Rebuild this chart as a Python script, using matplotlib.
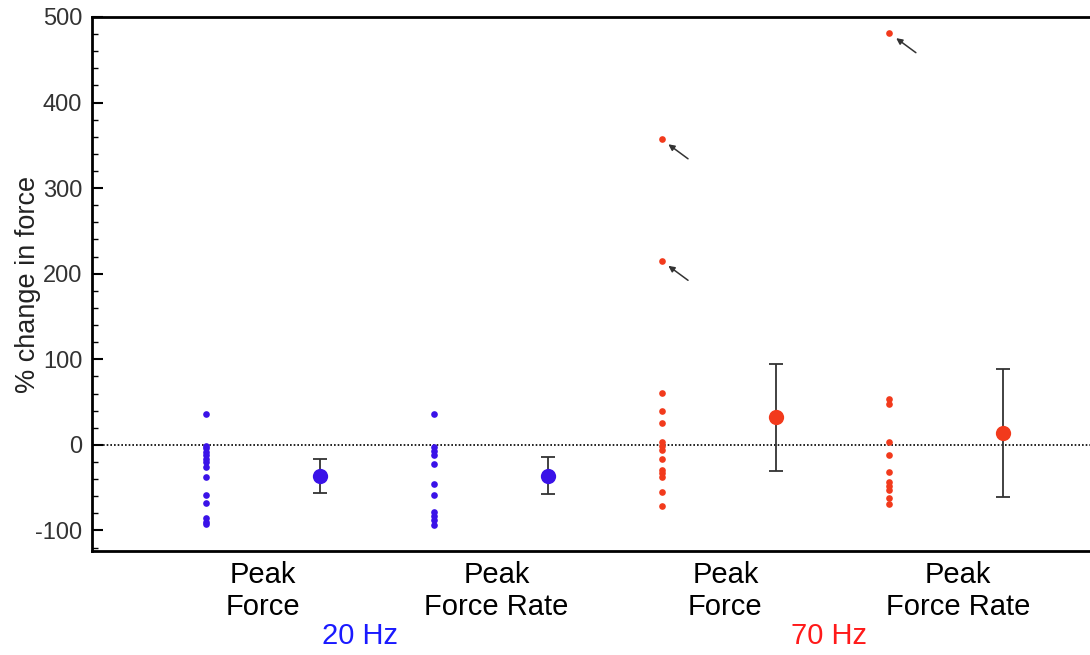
import numpy as np
import matplotlib
matplotlib.use('Agg')
from matplotlib import pyplot as plt
from matplotlib.ticker import MultipleLocator

plt.rcParams['font.family'] = ['Liberation Sans', 'DejaVu Sans']
plt.rcParams['axes.unicode_minus'] = False

# individual % changes
pf_20hz  = [36, -1, -4, -8, -12, -16, -20, -26, -37, -59, -68, -86, -90, -93]
pfr_20hz = [36, -3, -7, -12, -22, -46, -58, -78, -83, -88, -94]
pf_70hz  = [357, 215, 61, 40, 26, 3, -1, -6, -17, -29, -33, -37, -55, -72]
pfr_70hz = [481, 54, 48, 3, -12, -32, -43, -48, -53, -62, -69]

# group means and SD
means = [-36, -36, 32, 14]
sds   = [20, 21.5, 62.5, 74.5]

# outliers marked with arrows
outliers = [(4, 357), (4, 215), (6, 481)]

group_labels = ['Peak\nForce', 'Peak\nForce Rate', 'Peak\nForce', 'Peak\nForce Rate']
freq_labels  = ['20 Hz', '70 Hz']

blue = '#3a12e8'
red  = '#f23a1c'

fig = plt.figure(figsize=(10.9, 6.55), dpi=100)
ax = fig.add_axes([0.0844, 0.1588, 0.9156, 0.8153])

columns = [pf_20hz, pfr_20hz, pf_70hz, pfr_70hz]
colors  = [blue, blue, red, red]
for i, vals in enumerate(columns):
    x = 2 * i
    ax.plot([x] * len(vals), vals, 'o', color=colors[i], ms=4.8, mec='none')
    ax.errorbar(x + 1, means[i], yerr=sds[i], fmt='o', color=colors[i], ms=11,
                mec='none', ecolor='#333333', elinewidth=1.3, capsize=5, capthick=1.3, zorder=3)

for x, v in outliers:
    ax.annotate('', xy=(x, v), xytext=(19, -14), textcoords='offset points',
                arrowprops=dict(arrowstyle='-|>', color='#333333', lw=1.1,
                                mutation_scale=9, shrinkA=0, shrinkB=6))

ax.axhline(0, color='k', ls=(0, (1, 1.2)), lw=1.2, zorder=1)

ax.set_xlim(-1, 7.76)
ax.set_ylim(-124, 500)
ax.yaxis.set_major_locator(MultipleLocator(100))
ax.yaxis.set_minor_locator(MultipleLocator(20))
ax.tick_params(axis='y', which='major', direction='in', length=8, width=1.5,
               labelsize=17, pad=7, labelcolor='#333333')
ax.tick_params(axis='y', which='minor', direction='in', length=4, width=1)
ax.set_xticks([])
ax.spines['right'].set_visible(False)
for s in ['left', 'top', 'bottom']:
    ax.spines[s].set_linewidth(2)
ax.set_ylabel('% change in force', fontsize=19.5, labelpad=-4, color='#222222')

trans = ax.get_xaxis_transform()
label_x = [0.5, 2.55, 4.56, 6.6]
for lx, lab in zip(label_x, group_labels):
    ax.text(lx, -0.075, lab, transform=trans, ha='center', va='center',
            fontsize=21, linespacing=1.2)
ax.text(1.35, -0.16, freq_labels[0], transform=trans, ha='center', va='center',
        fontsize=21, color='#1a1aff')
ax.text(5.47, -0.16, freq_labels[1], transform=trans, ha='center', va='center',
        fontsize=21, color='#ff1a1a')

fig.savefig('out.png', dpi=100)
